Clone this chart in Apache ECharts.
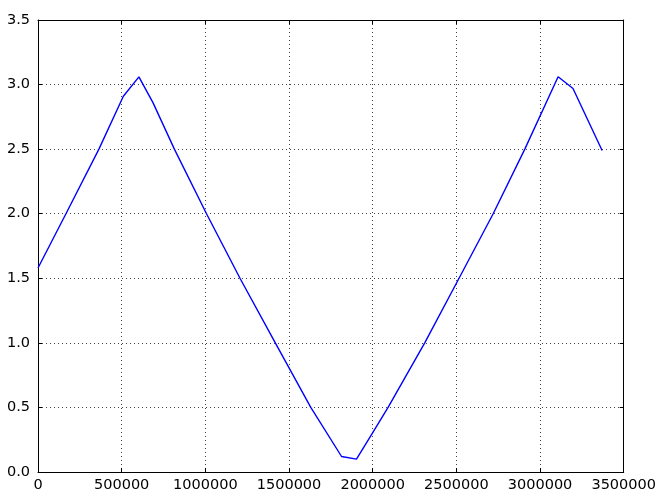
<!DOCTYPE html>
<html>
<head>
<meta charset="utf-8">
<script src="https://cdn.jsdelivr.net/npm/echarts@6/dist/echarts.min.js"></script>
<style>
html,body{margin:0;padding:0;background:#fff;}
#chart{width:659px;height:493px;}
</style>
</head>
<body>
<div id="chart"></div>
<script>
var xValues = [0, 167000, 364000, 510000, 603000, 687000, 815000, 1007000, 1207000, 1418000, 1630000, 1814000, 1903000, 1993000, 2092000, 2311000, 2516000, 2720000, 2909000, 3108000, 3197000, 3371000];
var yValues = [1.58, 2.0, 2.5, 2.91, 3.06, 2.86, 2.5, 2.0, 1.5, 1.0, 0.5, 0.12, 0.10, 0.29, 0.5, 1.0, 1.5, 2.0, 2.5, 3.06, 2.97, 2.49];
var xTicks = [0, 500000, 1000000, 1500000, 2000000, 2500000, 3000000, 3500000];
var yTicks = [0.0, 0.5, 1.0, 1.5, 2.0, 2.5, 3.0, 3.5];

var seriesData = xValues.map(function (x, i) { return [x, yValues[i]]; });
var font = 'DejaVu Sans';
var gridLine = {show: true, lineStyle: {color: '#444', width: 1, type: [1, 3]}};
var spine = {show: true, onZero: false, lineStyle: {color: '#000', width: 1}};
var tick = {show: true, inside: true, length: 4, lineStyle: {color: '#000', width: 1}};

function xAxisDef(pos, labels) {
  return {
    type: 'value', position: pos, min: xTicks[0], max: xTicks[xTicks.length - 1],
    interval: xTicks[1] - xTicks[0],
    axisLine: spine, axisTick: tick,
    splitLine: labels ? gridLine : {show: false},
    axisLabel: {show: labels, color: '#000', fontFamily: font, fontSize: 14.5, margin: 6,
      formatter: function (v) { return String(v); }}
  };
}
function yAxisDef(pos, labels) {
  return {
    type: 'value', position: pos, min: yTicks[0], max: yTicks[yTicks.length - 1],
    interval: yTicks[1] - yTicks[0],
    axisLine: spine, axisTick: tick,
    splitLine: labels ? gridLine : {show: false},
    axisLabel: {show: labels, color: '#000', fontFamily: font, fontSize: 14.5, margin: 8,
      formatter: function (v) { return v.toFixed(1); }}
  };
}

var chart = echarts.init(document.getElementById('chart'), null, {renderer: 'canvas'});
chart.setOption({
  animation: false,
  backgroundColor: '#fff',
  grid: {left: 38, right: 35, top: 20, bottom: 19, containLabel: false},
  xAxis: [xAxisDef('bottom', true), xAxisDef('top', false)],
  yAxis: [yAxisDef('left', true), yAxisDef('right', false)],
  series: [{
    type: 'line',
    data: seriesData,
    showSymbol: false,
    lineStyle: {color: '#0000ff', width: 1.4},
    z: 5
  }]
});
</script>
</body>
</html>
